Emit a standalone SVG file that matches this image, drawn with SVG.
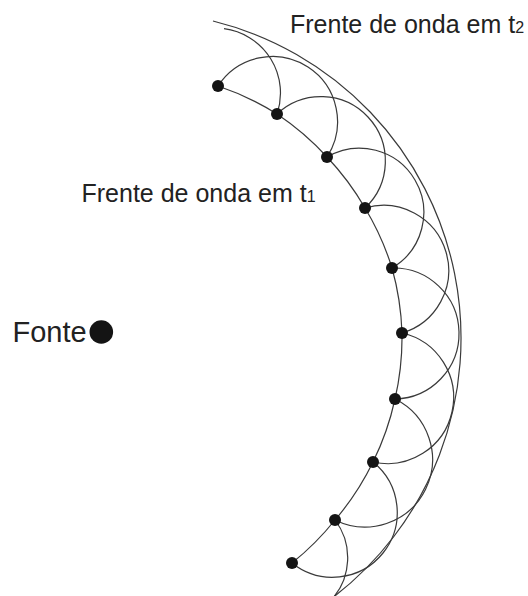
<svg xmlns="http://www.w3.org/2000/svg" width="528" height="596" viewBox="0 0 528 596">
<style>
.ln{fill:none;stroke:#3a3a3a;stroke-width:1.2}
.dot{fill:#141414}
.lbl{font-family:"Liberation Sans",Arial,sans-serif;fill:#222}
</style>
<rect width="528" height="596" fill="#fff"/>
<g id="connectors">
<path id="front-t1" class="ln" d="M218,86 A273,273 0 0 1 277,114 A273,273 0 0 1 327,157 A273,273 0 0 1 365,208 A273,273 0 0 1 392,268 A273,273 0 0 1 402,333 A273,273 0 0 1 395,399 A273,273 0 0 1 373,462 A273,273 0 0 1 335,520 A273,273 0 0 1 292,563"/>
<path id="front-t2" class="ln" d="M213,21 A326.7,326.7 0 0 1 329.6,600"/>
<path class="ln" d="M224,28.7 A64.9,64.9 0 0 1 277,114"/>
<path class="ln" d="M218,86 A1,1 0 0 1 327,157"/>
<path class="ln" d="M277,114 A1,1 0 0 1 365,208"/>
<path class="ln" d="M327,157 A1,1 0 0 1 392,268"/>
<path class="ln" d="M365,208 A1,1 0 0 1 402,333"/>
<path class="ln" d="M392,268 A1,1 0 0 1 395,399"/>
<path class="ln" d="M402,333 A1,1 0 0 1 373,462"/>
<path class="ln" d="M395,399 A1,1 0 0 1 335,520"/>
<path class="ln" d="M373,462 A1,1 0 0 1 292,563"/>
<path class="ln" d="M335,520 A62.4,62.4 0 0 1 331.2,600"/>
</g>
<g id="source">
<circle class="dot" cx="101.3" cy="332" r="11.8"/>
<text class="lbl" x="12.5" y="341.5" font-size="29">Fonte</text>
</g>
<g id="points">
<circle class="dot" cx="218" cy="86" r="6"/>
<circle class="dot" cx="277" cy="114" r="6"/>
<circle class="dot" cx="327" cy="157" r="6"/>
<circle class="dot" cx="365" cy="208" r="6"/>
<circle class="dot" cx="392" cy="268" r="6"/>
<circle class="dot" cx="402" cy="333" r="6"/>
<circle class="dot" cx="395" cy="399" r="6"/>
<circle class="dot" cx="373" cy="462" r="6"/>
<circle class="dot" cx="335" cy="520" r="6"/>
<circle class="dot" cx="292" cy="563" r="6"/>
</g>
<g id="label-t2">
<text class="lbl" x="290" y="33" font-size="25">Frente de onda em t<tspan font-size="16">2</tspan></text>
</g>
<g id="label-t1">
<text class="lbl" x="81.5" y="202" font-size="25">Frente de onda em t<tspan font-size="16">1</tspan></text>
</g>
</svg>
